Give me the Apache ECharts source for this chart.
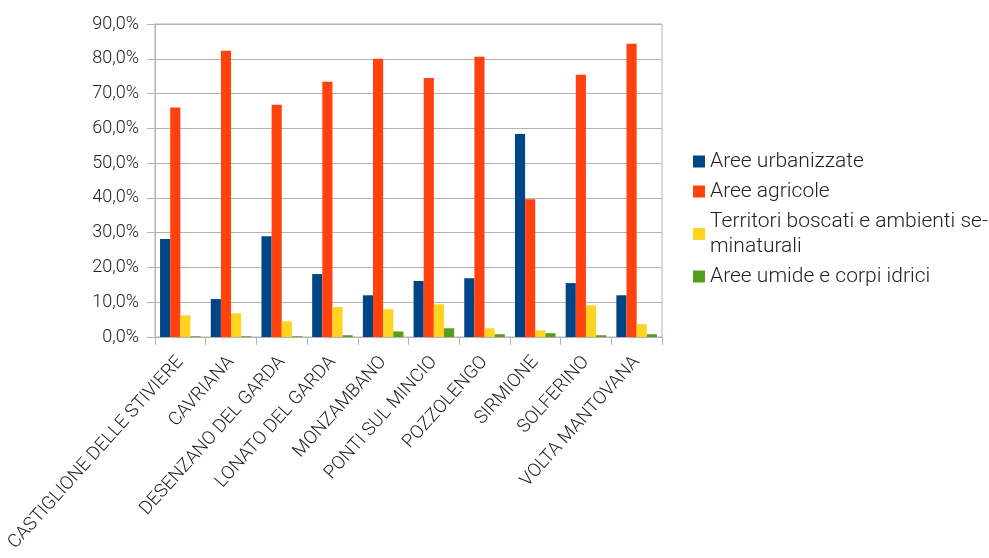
<!DOCTYPE html>
<html>
<head>
<meta charset="utf-8">
<script src="https://cdn.jsdelivr.net/npm/echarts@6/dist/echarts.min.js"></script>
<style>
  html, body { margin: 0; padding: 0; background: #fff; }
  #chart { width: 989px; height: 558px; }
</style>
</head>
<body>
<div id="chart"></div>
<script>
  // comuni
  var comuni = ['CASTIGLIONE DELLE STIVIERE', 'CAVRIANA', 'DESENZANO DEL GARDA', 'LONATO DEL GARDA',
    'MONZAMBANO', 'PONTI SUL MINCIO', 'POZZOLENGO', 'SIRMIONE', 'SOLFERINO', 'VOLTA MANTOVANA'];

  // valori in percentuale
  var urbanizzate = [28.2, 10.9, 29.0, 18.1, 12.0, 16.1, 16.9, 58.4, 15.5, 12.0];
  var agricole    = [66.0, 82.3, 66.8, 73.4, 80.0, 74.5, 80.6, 39.6, 75.4, 84.3];
  var boscati     = [6.2, 6.8, 4.5, 8.6, 8.0, 9.4, 2.5, 1.9, 9.1, 3.7];
  var umide       = [0.2, 0.2, 0.2, 0.5, 1.6, 2.5, 0.8, 1.1, 0.5, 0.8];

  var nomiSerie = ['Aree urbanizzate', 'Aree agricole', 'Territori boscati e ambienti se-\nminaturali', 'Aree umide e corpi idrici'];

  var myChart = echarts.init(document.getElementById('chart'));

  function serie(nome, dati, colore) {
    return {
      name: nome,
      type: 'bar',
      data: dati,
      barGap: '0%',
      barCategoryGap: '20%',
      itemStyle: { color: colore }
    };
  }

  myChart.setOption({
    animation: false,
    textStyle: { fontFamily: 'Roboto', fontWeight: 300 },
    grid: {
      left: 155, right: 327, top: 24, bottom: 221,
      show: true, borderColor: '#b3b3b3', borderWidth: 1
    },
    legend: {
      orient: 'vertical',
      left: 688,
      top: 144,
      itemWidth: 12,
      itemHeight: 12,
      itemGap: 5,
      itemStyle: { borderWidth: 0 },
      icon: 'rect',
      textStyle: { fontSize: 21, fontWeight: 300, color: '#222', lineHeight: 25 },
      data: nomiSerie
    },
    xAxis: {
      type: 'category',
      data: comuni,
      axisLine: { lineStyle: { color: '#b3b3b3' } },
      axisTick: { show: true, length: 8, lineStyle: { color: '#b3b3b3' } },
      axisLabel: {
        interval: 0,
        rotate: 48,
        fontSize: 18.5,
        fontWeight: 300,
        color: '#222',
        margin: 22
      }
    },
    yAxis: {
      type: 'value',
      min: 0,
      max: 90,
      interval: 10,
      axisLine: { show: true, lineStyle: { color: '#b3b3b3' } },
      axisTick: { show: true, length: 8, lineStyle: { color: '#b3b3b3' } },
      splitLine: { lineStyle: { color: '#b3b3b3' } },
      axisLabel: {
        fontSize: 18,
        fontWeight: 300,
        color: '#222',
        margin: 16,
        formatter: function (v) { return v.toFixed(1).replace('.', ',') + '%'; }
      }
    },
    series: [
      serie(nomiSerie[0], urbanizzate, '#004586'),
      serie(nomiSerie[1], agricole, '#ff420e'),
      serie(nomiSerie[2], boscati, '#ffd320'),
      serie(nomiSerie[3], umide, '#579d1c')
    ]
  });
</script>
</body>
</html>
